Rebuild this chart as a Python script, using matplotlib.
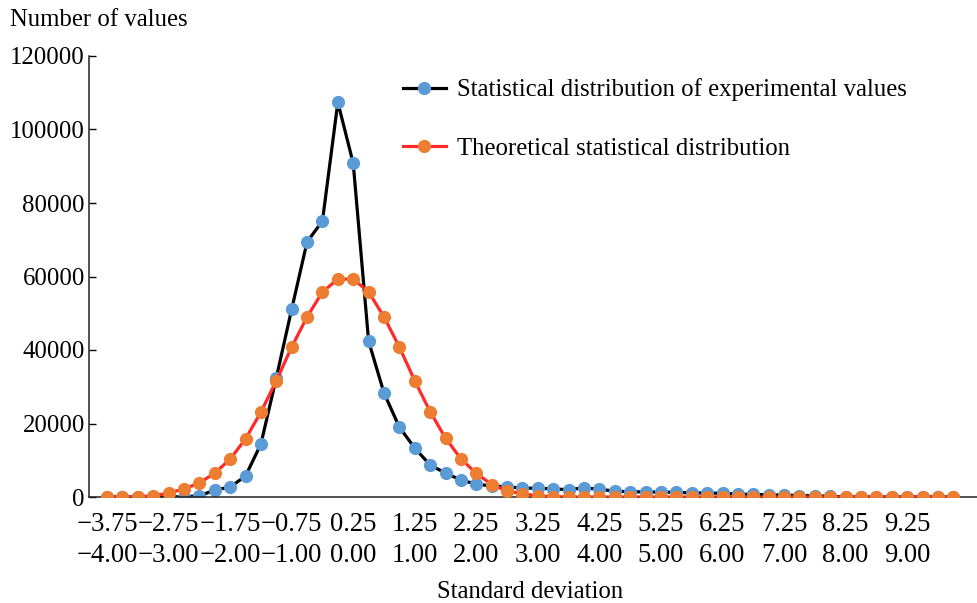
import numpy as np
import matplotlib.pyplot as plt

plt.rcParams['font.family'] = ['Liberation Serif', 'DejaVu Serif']

# standard deviation categories: -4.00 ... 9.75 step 0.25
sigma = [-4.0 + 0.25 * i for i in range(56)]

experimental = [0, 0, 0, 0, 0, 100, 300, 1900, 2700, 5700,
                14400, 32400, 51100, 69400, 75100, 107400, 90800, 42400, 28300, 19000,
                13300, 8700, 6500, 4600, 3500, 3000, 2800, 2400, 2400, 2200,
                2000, 2500, 2100, 1600, 1400, 1400, 1300, 1300, 1100, 1100,
                1000, 800, 700, 600, 500, 400, 300, 200, 0, 0,
                0, 0, 0, 0, 0, 0]

theoretical = [0, 0, 100, 300, 1100, 2200, 3800, 6500, 10300, 15800,
               23100, 31600, 40800, 49000, 55800, 59300, 59300, 55800, 49000, 40800,
               31600, 23200, 16000, 10400, 6400, 3400, 1600, 900, 300, 100,
               0, 0, 0, 0, 0, 0, 0, 0, 0, 0,
               0, 0, 0, 0, 0, 0, 0, 0, 0, 0,
               0, 0, 0, 0, 0, 0]

tick_idx = list(range(0, 56, 4))
tick_top = ['%.2f' % (sigma[i] + 0.25) for i in tick_idx]
tick_bottom = ['%.2f' % sigma[i] for i in tick_idx]

fs = 17.8

fig = plt.figure(figsize=(9.78, 6.03), dpi=100)
ax = fig.add_axes([89 / 978, 1 - 497 / 603, 889 / 978, 441 / 603])

x = np.arange(len(sigma))
ax.plot(x, experimental, color='black', lw=2.3, marker='o', ms=9.5,
        mfc='#5B9BD5', mec='#5B9BD5', mew=0, zorder=2,
        label='Statistical distribution of experimental values')
ax.plot(x, theoretical, color='#FF2A2A', lw=2.3, marker='o', ms=9.5,
        mfc='#ED7D31', mec='#ED7D31', mew=0, zorder=3,
        label='Theoretical statistical distribution')

ax.set_ylim(0, 120000)
ax.set_xlim(-1.17, 56.6)
ax.set_yticks(range(0, 120001, 20000))
ax.set_xticks(tick_idx)
labels = [(t + '\n' + b).replace('-', '\u2212') for t, b in zip(tick_top, tick_bottom)]
ax.set_xticklabels(labels, linespacing=1.32)

ax.tick_params(axis='y', direction='in', length=5, width=1, pad=3, labelsize=fs)
ax.tick_params(axis='x', length=0, pad=11, labelsize=19.2)

for s in ['top', 'right']:
    ax.spines[s].set_visible(False)
for s in ['left', 'bottom']:
    ax.spines[s].set_linewidth(1.1)
    ax.spines[s].set_color('#222222')

ax.set_xlabel('Standard deviation', fontsize=fs)
ax.xaxis.set_label_coords(0.496, -0.19)
fig.text(10 / 978, 1 - 20 / 603, 'Number of values', fontsize=fs,
         ha='left', va='center')

ax.legend(loc='upper left', bbox_to_anchor=(0.353, 0.949), frameon=False,
          fontsize=fs, numpoints=1, handlelength=1.75, handletextpad=0.45,
          labelspacing=1.45, borderpad=0, borderaxespad=0)

fig.savefig('out.png', dpi=100)
